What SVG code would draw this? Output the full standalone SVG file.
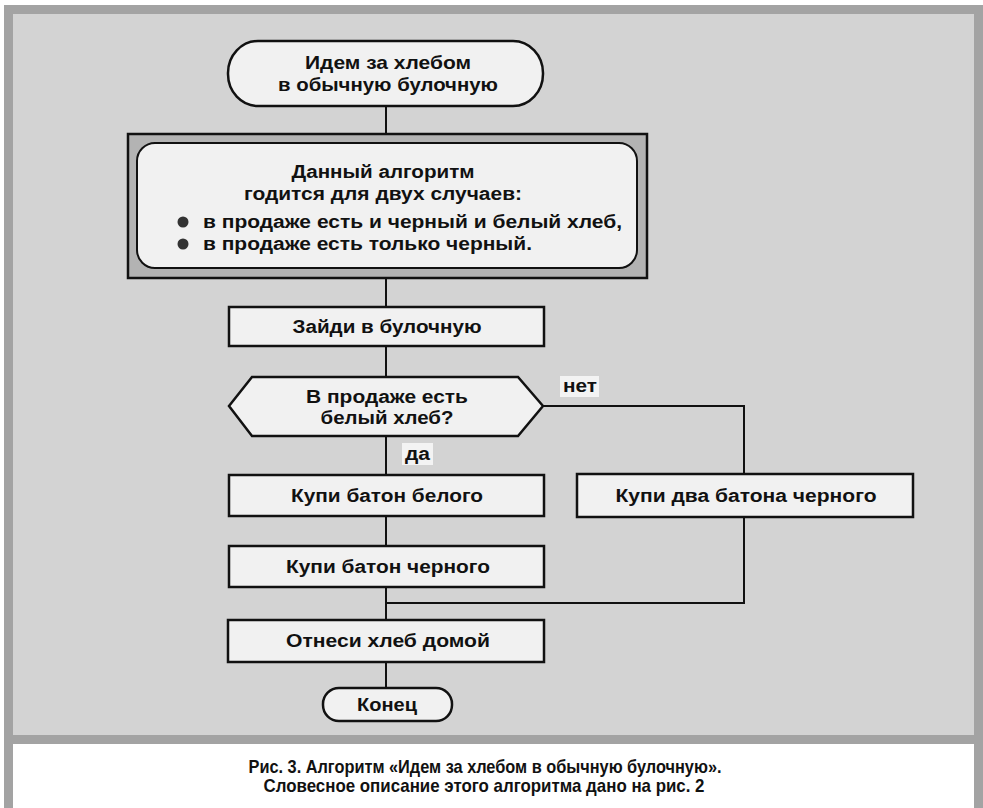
<svg xmlns="http://www.w3.org/2000/svg" width="983" height="808" viewBox="0 0 983 808">
<style>
.box{fill:#f1f1f1;stroke:#111;stroke-width:2.5}
.ln{fill:none;stroke:#111;stroke-width:2}
.t{font-family:"Liberation Sans",Arial,sans-serif;font-weight:bold;font-size:18px;fill:#111;text-anchor:middle}
.tl{font-family:"Liberation Sans",Arial,sans-serif;font-weight:bold;font-size:18px;fill:#111}
.c{font-family:"Liberation Sans",Arial,sans-serif;font-weight:bold;font-size:19px;fill:#111;text-anchor:middle}
.lb{fill:#f3f3f3}
</style>
<rect x="0" y="0" width="983" height="808" fill="#ffffff"/>
<rect x="4" y="5" width="979" height="803" fill="#a3a3a3"/>
<rect x="13" y="14" width="961" height="721" fill="#d3d3d3"/>
<rect x="13" y="744" width="961" height="64" fill="#ffffff"/>

<g id="connectors">
<line class="ln" x1="386" y1="106" x2="386" y2="134"/>
<line class="ln" x1="386" y1="278" x2="386" y2="307"/>
<line class="ln" x1="386" y1="346" x2="386" y2="377"/>
<line class="ln" x1="386" y1="436" x2="386" y2="475"/>
<line class="ln" x1="386" y1="516" x2="386" y2="546"/>
<line class="ln" x1="386" y1="587" x2="386" y2="620"/>
<line class="ln" x1="386" y1="662" x2="386" y2="688"/>
<polyline class="ln" points="543,406 744,406 744,474"/>
<polyline class="ln" points="744,517 744,603 386,603"/>
<rect class="lb" x="560" y="376" width="39" height="21"/>
<text class="tl" x="563" y="392" textLength="34" lengthAdjust="spacingAndGlyphs">нет</text>
<rect class="lb" x="402" y="443" width="31" height="22"/>
<text class="tl" x="405" y="460" textLength="25" lengthAdjust="spacingAndGlyphs">да</text>
</g>

<g id="start">
<rect class="box" x="228" y="41" width="315" height="65" rx="30" ry="32"/>
<text class="c" x="388" y="69" font-size="21" textLength="166" lengthAdjust="spacingAndGlyphs">Идем за хлебом</text>
<text class="c" x="388" y="91" font-size="21" textLength="220" lengthAdjust="spacingAndGlyphs">в обычную булочную</text>
</g>

<g id="note">
<rect x="128" y="134" width="519" height="144" fill="#b3b3b3" stroke="#111" stroke-width="2.5"/>
<rect x="137" y="143" width="500" height="125" rx="18" fill="#f1f1f1" stroke="#111" stroke-width="2"/>
<text class="t" x="383" y="178" textLength="183" lengthAdjust="spacingAndGlyphs">Данный алгоритм</text>
<text class="t" x="383" y="200" textLength="278" lengthAdjust="spacingAndGlyphs">годится для двух случаев:</text>
<circle cx="183" cy="222" r="5.5" fill="#333"/>
<text class="tl" x="203" y="228" textLength="419" lengthAdjust="spacingAndGlyphs">в продаже есть и черный и белый хлеб,</text>
<circle cx="183" cy="244" r="5.5" fill="#333"/>
<text class="tl" x="203" y="250" textLength="329" lengthAdjust="spacingAndGlyphs">в продаже есть только черный.</text>
</g>

<g id="enter">
<rect class="box" x="229" y="307" width="315" height="39"/>
<text class="t" x="387" y="333" textLength="189" lengthAdjust="spacingAndGlyphs">Зайди в булочную</text>
</g>

<g id="decision">
<polygon class="box" points="229,406 252,377 518,377 543,406 518,436 252,436"/>
<text class="t" x="387" y="403" textLength="162" lengthAdjust="spacingAndGlyphs">В продаже есть</text>
<text class="t" x="387" y="424" textLength="133" lengthAdjust="spacingAndGlyphs">белый хлеб?</text>
</g>

<g id="buy-white">
<rect class="box" x="229" y="475" width="315" height="41"/>
<text class="t" x="387" y="502" textLength="192" lengthAdjust="spacingAndGlyphs">Купи батон белого</text>
</g>

<g id="buy-black">
<rect class="box" x="229" y="546" width="315" height="41"/>
<text class="t" x="388" y="573" textLength="204" lengthAdjust="spacingAndGlyphs">Купи батон черного</text>
</g>

<g id="buy-two-black">
<rect class="box" x="577" y="474" width="336" height="43"/>
<text class="t" x="746" y="502" textLength="261" lengthAdjust="spacingAndGlyphs">Купи два батона черного</text>
</g>

<g id="carry">
<rect class="box" x="228" y="620" width="316" height="42"/>
<text class="t" x="388" y="647" textLength="204" lengthAdjust="spacingAndGlyphs">Отнеси хлеб домой</text>
</g>

<g id="end">
<rect class="box" x="323" y="688" width="129" height="33" rx="16" ry="16"/>
<text class="t" x="387" y="711" textLength="60" lengthAdjust="spacingAndGlyphs">Конец</text>
</g>

<g id="caption">
<text class="c" x="485" y="773" textLength="473" lengthAdjust="spacingAndGlyphs">Рис. 3. Алгоритм «Идем за хлебом в обычную булочную».</text>
<text class="c" x="484" y="792" textLength="441" lengthAdjust="spacingAndGlyphs">Словесное описание этого алгоритма дано на рис. 2</text>
</g>
</svg>
